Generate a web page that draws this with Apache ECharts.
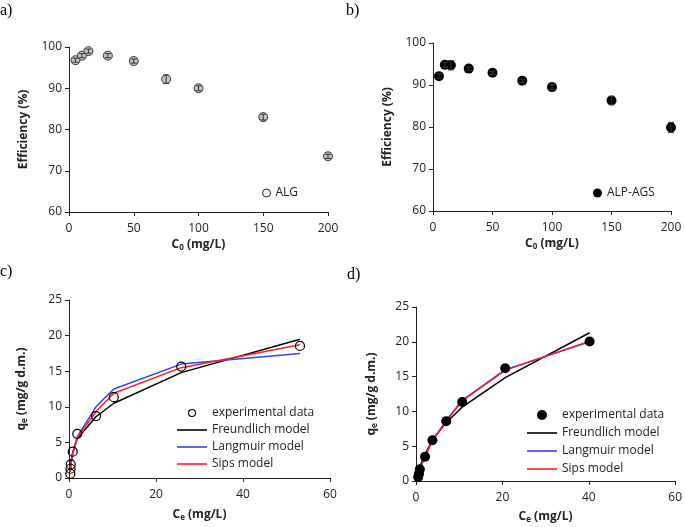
<!DOCTYPE html>
<html><head><meta charset="utf-8">
<script src="https://cdn.jsdelivr.net/npm/echarts@6/dist/echarts.min.js"></script>
<style>html,body{margin:0;padding:0;background:#fff}#c{width:685px;height:527px}</style>
</head><body><div id="c"></div>
<script>
// ---- Data ----
const effX = [5, 10, 15, 30, 50, 75, 100, 150, 200];
const algEff = [96.8, 97.9, 99.0, 97.9, 96.6, 92.2, 90.0, 83.0, 73.5];
const algErr = [0.5, 0.5, 0.5, 0.5, 0.5, 1.0, 0.6, 0.7, 0.5];
const agsEff = [92.1, 94.8, 94.7, 93.9, 92.9, 91.0, 89.5, 86.3, 79.9];
const agsErr = [0.6, 0.6, 1.1, 0.4, 0.4, 0.4, 0.5, 1.0, 1.2];

const cCe = [0.3, 0.35, 0.4, 0.85, 1.9, 6.2, 10.3, 25.8, 53.1];
const cExp = [0.6, 1.3, 1.9, 3.7, 6.2, 8.7, 11.35, 15.65, 18.55];
const cFreund = [1.0, 1.5, 2.0, 3.6, 5.5, 8.6, 10.5, 14.8, 19.5];
const cLang = [0.9, 1.4, 1.9, 3.4, 5.8, 10.0, 12.5, 16.0, 17.5];
const cSips = [0.9, 1.4, 1.9, 3.5, 5.7, 9.3, 11.9, 15.5, 18.7];

const dCe = [0.5, 0.7, 0.9, 2.1, 3.8, 7.0, 10.7, 20.65, 40.2];
const dExp = [0.57, 1.05, 1.7, 3.5, 5.85, 8.6, 11.35, 16.2, 20.05];
const dFreund = [1.0, 1.5, 2.1, 3.8, 5.9, 8.4, 10.6, 14.85, 21.3];
const dLang = [0.9, 1.3, 1.8, 3.5, 5.8, 8.7, 11.6, 16.0, 20.0];
const dSips = [0.9, 1.3, 1.8, 3.5, 5.8, 8.6, 11.5, 15.9, 20.1];

const panelLabels = ['a)', 'b)', 'c)', 'd)'];
const legendModels = ['experimental data', 'Freundlich model', 'Langmuir model', 'Sips model'];

// ---- Styles ----
const FONT = "'Open Sans', sans-serif";
const AX = '#222';
const BLUE = '#2B45FF', RED = '#FF1F1F';
const LINE_ICON = 'path://M0 0H30V1.6H0Z';

const pair = (xs, ys) => xs.map((x, i) => [x, ys[i]]);
const errData = (xs, ys, es) => xs.map((x, i) => [x, ys[i] - es[i], ys[i] + es[i]]);

function errSeries(idx, data) {
  return {
    type: 'custom', xAxisIndex: idx, yAxisIndex: idx, z: 5, data: data,
    encode: { x: 0, y: [1, 2] },
    renderItem: function (params, api) {
      const x = api.value(0);
      const p1 = api.coord([x, api.value(2)]);
      const p2 = api.coord([x, api.value(1)]);
      const w = 3;
      const st = { stroke: '#333', lineWidth: 1 };
      return { type: 'group', children: [
        { type: 'line', shape: { x1: p1[0], y1: p1[1], x2: p2[0], y2: p2[1] }, style: st },
        { type: 'line', shape: { x1: p1[0] - w, y1: p1[1], x2: p1[0] + w, y2: p1[1] }, style: st },
        { type: 'line', shape: { x1: p2[0] - w, y1: p2[1], x2: p2[0] + w, y2: p2[1] }, style: st }
      ]};
    }
  };
}

const richName = {
  b: { fontFamily: FONT, fontWeight: 'bold', fontSize: 12, color: AX, lineHeight: 14 },
  s: { fontFamily: FONT, fontWeight: 'bold', fontSize: 8, color: AX, lineHeight: 8, verticalAlign: 'bottom', padding: [8, 0, 0, 0] }
};

function xAx(idx, max, interval, name, gap) {
  return {
    type: 'value', gridIndex: idx, min: 0, max: max, interval: interval,
    axisLine: { show: true, onZero: false, lineStyle: { color: AX, width: 1 } },
    axisTick: { show: true, inside: false, length: 4, lineStyle: { color: AX } },
    splitLine: { show: false },
    axisLabel: { fontFamily: FONT, fontSize: 12, color: AX, margin: 11 },
    name: name, nameLocation: 'middle', nameGap: gap,
    nameTextStyle: { rich: richName }
  };
}
function yAx(idx, min, max, interval, name, gap) {
  return {
    type: 'value', gridIndex: idx, min: min, max: max, interval: interval,
    axisLine: { show: true, onZero: false, lineStyle: { color: AX, width: 1 } },
    axisTick: { show: true, inside: false, length: 4, lineStyle: { color: AX } },
    splitLine: { show: false },
    axisLabel: { fontFamily: FONT, fontSize: 12, color: AX, margin: 7 },
    name: name, nameLocation: 'middle', nameGap: gap, nameRotate: 90,
    nameTextStyle: { rich: richName }
  };
}

const lineS = (idx, name, data, color) => ({
  type: 'line', name: name, xAxisIndex: idx, yAxisIndex: idx, data: data,
  symbol: 'none', lineStyle: { color: color, width: 1.5 }, itemStyle: { color: color },
  z: 2, animation: false
});

const legendBase = {
  orient: 'vertical', itemWidth: 30, itemHeight: 10, itemGap: 4, padding: 0,
  textStyle: { fontFamily: FONT, fontSize: 12, color: AX },
  formatter: n => n.replace(/ \[[cd]\]$/, '')
};
const modelLegend = (tag, expStyle) => legendModels.map((n, i) => i === 0
  ? Object.assign({ name: n + ' ' + tag, icon: 'circle' }, expStyle)
  : { name: n + ' ' + tag, icon: LINE_ICON });

const option = {
  animation: false,
  title: [
    { text: panelLabels[0], left: 0, top: 3 },
    { text: panelLabels[1], left: 346, top: 3 },
    { text: panelLabels[2], left: 0, top: 264 },
    { text: panelLabels[3], left: 347, top: 267 }
  ].map(t => Object.assign(t, { padding: 0, textStyle: { fontFamily: "'Liberation Serif', serif", fontWeight: 'normal', fontSize: 16, color: '#000' } })),
  grid: [
    { left: 69, top: 47, width: 259, height: 165 },
    { left: 433, top: 43, width: 238, height: 168 },
    { left: 69, top: 300, width: 261, height: 178 },
    { left: 416, top: 307, width: 262, height: 174 }
  ],
  xAxis: [
    xAx(0, 200, 50, '{b|C}{s|0}{b| (mg/L)}', 22),
    xAx(1, 200, 50, '{b|C}{s|0}{b| (mg/L)}', 20),
    xAx(2, 60, 20, '{b|C}{s|e}{b| (mg/L)}', 30),
    xAx(3, 60, 20, '{b|C}{s|e}{b| (mg/L)}', 29)
  ],
  yAxis: [
    yAx(0, 60, 100, 10, '{b|Efficiency (%)}', 38),
    yAx(1, 60, 100, 10, '{b|Efficiency (%)}', 38),
    yAx(2, 0, 25, 5, '{b|q}{s|e}{b| (mg/g d.m.)}', 40),
    yAx(3, 0, 25, 5, '{b|q}{s|e}{b| (mg/g d.m.)}', 37)
  ],
  legend: [
    Object.assign({}, legendBase, { left: 262, top: 187, itemWidth: 8, itemHeight: 8, data: [{ name: 'ALG', itemStyle: { color: '#fff', borderColor: '#222', borderWidth: 1 } }] }),
    Object.assign({}, legendBase, { left: 593, top: 187, itemWidth: 9, itemHeight: 9, data: ['ALP-AGS'] }),
    Object.assign({}, legendBase, { left: 177, top: 407, itemHeight: 7, itemGap: 5,
      data: modelLegend('[c]', { itemStyle: { color: '#fff', borderColor: '#000', borderWidth: 1.2 } }) }),
    Object.assign({}, legendBase, { left: 527, top: 409, itemHeight: 10, itemGap: 6,
      data: modelLegend('[d]', {}) })
  ],
  series: [
    { type: 'scatter', name: 'ALG', xAxisIndex: 0, yAxisIndex: 0, data: pair(effX, algEff),
      symbol: 'circle', symbolSize: 9, z: 3,
      itemStyle: { color: '#c4c4c4', borderColor: '#333', borderWidth: 1, opacity: 1 } },
    errSeries(0, errData(effX, algEff, algErr)),
    { type: 'scatter', name: 'ALP-AGS', xAxisIndex: 1, yAxisIndex: 1, data: pair(effX, agsEff),
      symbol: 'circle', symbolSize: 10, z: 3,
      itemStyle: { color: '#000', opacity: 1 } },
    errSeries(1, errData(effX, agsEff, agsErr)),

    lineS(2, 'Freundlich model [c]', pair(cCe, cFreund), '#000'),
    lineS(2, 'Langmuir model [c]', pair(cCe, cLang), BLUE),
    lineS(2, 'Sips model [c]', pair(cCe, cSips), RED),
    { type: 'scatter', name: 'experimental data [c]', xAxisIndex: 2, yAxisIndex: 2, data: pair(cCe, cExp),
      symbol: 'circle', symbolSize: 9, z: 4,
      itemStyle: { color: 'rgba(255,255,255,0)', borderColor: '#000', borderWidth: 1.2, opacity: 1 } },

    lineS(3, 'Freundlich model [d]', pair(dCe, dFreund), '#000'),
    lineS(3, 'Langmuir model [d]', pair(dCe, dLang), BLUE),
    lineS(3, 'Sips model [d]', pair(dCe, dSips), RED),
    { type: 'scatter', name: 'experimental data [d]', xAxisIndex: 3, yAxisIndex: 3, data: pair(dCe, dExp),
      symbol: 'circle', symbolSize: 10, z: 4,
      itemStyle: { color: '#000', opacity: 1 } }
  ]
};

const chart = echarts.init(document.getElementById('c'), null, { renderer: 'canvas' });
chart.setOption(option);
</script>
</body></html>
